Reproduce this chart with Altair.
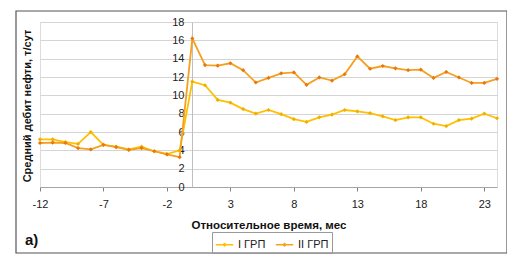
import altair as alt
import pandas as pd

months = list(range(-12, 25))
grp1 = [5.2, 5.2, 4.9, 4.7, 6.0, 4.6, 4.4, 4.1, 4.4, 3.9, 3.6, 4.0,
        11.5, 11.1, 9.5, 9.2, 8.5, 8.0, 8.4, 7.95, 7.4, 7.1, 7.6, 7.9, 8.4,
        8.25, 8.05, 7.7, 7.3, 7.6, 7.6, 6.9, 6.65, 7.3, 7.45, 8.0, 7.5]
grp2 = [4.8, 4.85, 4.8, 4.25, 4.1, 4.6, 4.35, 4.05, 4.25, 3.9, 3.55, 3.25,
        16.2, 13.3, 13.25, 13.5, 12.75, 11.4, 11.9, 12.4, 12.5, 11.15, 11.95, 11.6, 12.3,
        14.25, 12.9, 13.2, 12.95, 12.75, 12.8, 11.9, 12.55, 11.95, 11.35, 11.35, 11.8]
series_names = ["I ГРП", "II ГРП"]
x_ticks = [-12, -7, -2, 3, 8, 13, 18, 23]
y_ticks = list(range(0, 19, 2))

rows = []
for m, a, b in zip(months, grp1, grp2):
    rows.append({"t": m, "v": a, "s": series_names[0]})
    rows.append({"t": m, "v": b, "s": series_names[1]})
df = pd.DataFrame(rows)

FONT = "Liberation Sans"
W, H = 457, 165

x_enc = alt.X("t:Q", scale=alt.Scale(domain=[-12, 24], nice=False, zero=False),
              axis=alt.Axis(values=x_ticks, title="Относительное время, мес", grid=False,
                            labelExpr="replace(datum.label, '\u2212', '-')",
                            domainColor="#A6A6A6", tickColor="#808080", tickSize=4,
                            labelPadding=7, labelFontSize=11, labelColor="#222",
                            labelOverlap=False, labelFlush=False,
                            titleFontSize=11.5, titleFontWeight="bold", titleColor="#111",
                            titlePadding=10, labelFont=FONT, titleFont=FONT))
y_enc = alt.Y("v:Q", scale=alt.Scale(domain=[0, 18], nice=False),
              axis=alt.Axis(values=y_ticks, title=None, offset=-152, grid=True,
                            gridColor="#D4D4D4", domainColor="#BFBFBF", ticks=False,
                            labelOverlap=False, labelFlush=False,
                            labelPadding=8, labelFontSize=11, labelColor="#222", labelFont=FONT))

base = alt.Chart(df).encode(x=x_enc, y=y_enc)

lines = base.mark_line(strokeWidth=1.8).encode(
    color=alt.Color("s:N", scale=alt.Scale(domain=series_names, range=["#FFC000", "#F5A020"]),
                    legend=alt.Legend(title=None, orient="none", legendX=172, legendY=210,
                                      direction="horizontal", strokeColor="#999999",
                                      padding=3,
                                      symbolType="M-1,0L1,0M0,-0.15L0.15,0L0,0.15L-0.15,0Z",
                                      symbolSize=300,
                                      symbolStrokeWidth=1.5, labelFontSize=11,
                                      labelFont=FONT, labelColor="#222", columnPadding=6)),
)
points = base.mark_point(shape="diamond", size=18, filled=True, opacity=1).encode(
    fill=alt.Fill("s:N", scale=alt.Scale(domain=series_names, range=["#EFB000", "#E8780C"]),
                  legend=None),
)

label_a = alt.Chart(pd.DataFrame({"txt": ["а)"]})).mark_text(
    align="left", baseline="middle", fontSize=15, fontWeight="bold", font=FONT, color="#111"
).encode(x=alt.value(-15), y=alt.value(218), text="txt:N")

ytitle = alt.Chart(pd.DataFrame({"txt": ["Средний дебит нефти, т/сут"]})).mark_text(
    align="center", baseline="middle", angle=270, fontSize=11, fontWeight="bold", font=FONT, color="#111"
).encode(x=alt.value(-12), y=alt.value(84), text="txt:N")

frame = alt.Chart(pd.DataFrame({"k": [0]})).mark_rect(
    filled=False, stroke="#555555", strokeWidth=1.2
).encode(x=alt.value(-24), x2=alt.value(467), y=alt.value(-11), y2=alt.value(231))

chart = alt.layer(frame, lines, points, label_a, ytitle).properties(
    width=W, height=H,
    autosize=alt.AutoSizeParams(type="none"),
    padding={"left": 32, "top": 14, "right": 10, "bottom": 72},
).configure_view(stroke="#A0A0A0").configure(font=FONT)

chart.save("out.html", embed_options={"renderer": "svg", "actions": False})
